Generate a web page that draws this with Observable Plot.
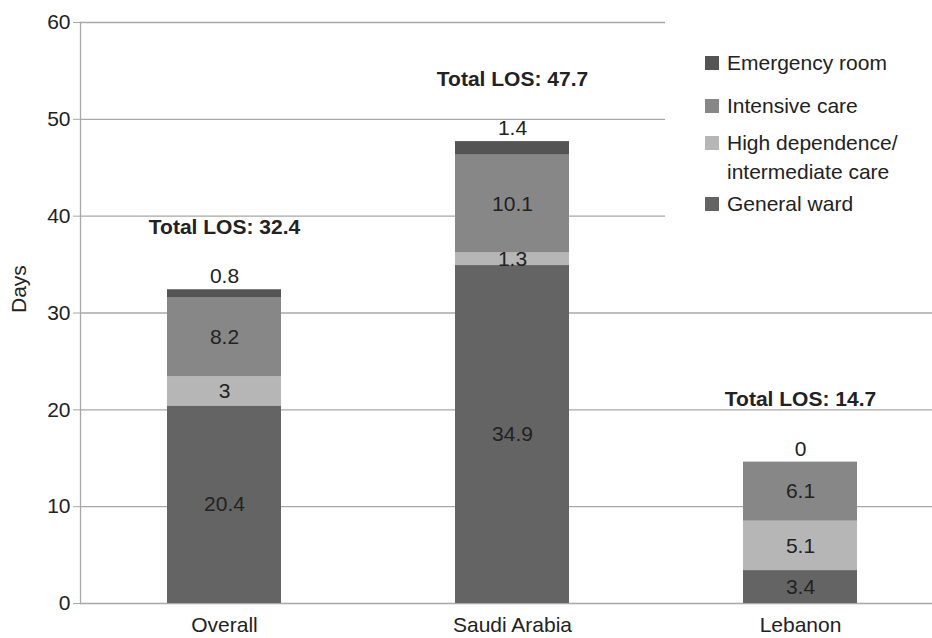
<!DOCTYPE html>
<html>
<head>
<meta charset="utf-8">
<script src="https://cdn.jsdelivr.net/npm/d3@7"></script>
<script src="https://cdn.jsdelivr.net/npm/@observablehq/plot@0.6"></script>
<style>
  html, body { margin: 0; padding: 0; background: #fff; }
  #wrap { position: relative; width: 932px; height: 638px; overflow: hidden; font-family: "Liberation Sans", Arial, sans-serif; }
  #legend { position: absolute; left: 665px; top: 0; width: 267px; height: 290px; background: #fff; padding: 48px 0 0 40px; box-sizing: border-box; color: #222; font-size: 21px; }
  .item { display: flex; align-items: flex-start; line-height: 29px; margin-bottom: 8px; }
  .item:nth-child(1) { margin-bottom: 14px; }
  .item:nth-child(3) { margin-bottom: 3px; }
  .sw { width: 14px; height: 14px; margin-top: 8px; margin-right: 8px; flex: none; }
</style>
</head>
<body>
<div id="wrap"><div id="chart"></div><div id="legend"></div></div>
<script>
const categories = ["Overall", "Saudi Arabia", "Lebanon"];
const seriesNames = ["General ward", "High dependence/intermediate care", "Intensive care", "Emergency room"];
const generalWard = [20.4, 34.9, 3.4];
const highDependence = [3, 1.3, 5.1];
const intensiveCare = [8.2, 10.1, 6.1];
const emergencyRoom = [0.8, 1.4, 0];
const totalLOS = [32.4, 47.7, 14.7];
const yTicks = [0, 10, 20, 30, 40, 50, 60];
const seriesColors = ["#646464", "#b6b6b6", "#878787", "#545454"];
const legendOrder = ["Emergency room", "Intensive care", "High dependence/intermediate care", "General ward"];
const legendLabels = {"Emergency room": "Emergency room", "Intensive care": "Intensive care", "High dependence/intermediate care": "High dependence/<br>intermediate care", "General ward": "General ward"};

const seriesValues = [generalWard, highDependence, intensiveCare, emergencyRoom];
const rows = [];
seriesNames.forEach((s, si) => categories.forEach((c, ci) => rows.push({category: c, series: s, value: seriesValues[si][ci]})));

const gridColor = "#a8a8a8";
const textColor = "#222";
const fs = 21;

const chart = Plot.plot({
  width: 932,
  height: 638,
  marginTop: 22,
  marginBottom: 35,
  marginLeft: 80,
  marginRight: 0,
  style: {fontFamily: "'Liberation Sans', Arial, sans-serif", fontSize: fs + "px", background: "#fff"},
  x: {domain: categories, range: [80, 944], paddingInner: 0.604, paddingOuter: 0.302, label: null},
  y: {domain: [0, 60], label: null},
  color: {domain: seriesNames, range: seriesColors},
  marks: [
    Plot.ruleY(yTicks, {stroke: gridColor, strokeWidth: 1.3}),
    Plot.barY(rows, {x: "category", y: "value", fill: "series", order: seriesNames}),
    Plot.text(rows, Plot.stackY({x: "category", y: "value", z: "series", order: seriesNames,
      text: d => d.series === "Emergency room" ? null : String(d.value), fontSize: fs, fill: textColor})),
    Plot.text(rows, Plot.stackY2({x: "category", y: "value", z: "series", order: seriesNames,
      text: d => d.series === "Emergency room" ? String(d.value) : null, dy: -13, fontSize: fs, fill: textColor})),
    Plot.text(categories, {x: d => d, y: (d, i) => totalLOS[i], text: (d, i) => `Total LOS: ${totalLOS[i]}`,
      dy: -62, fontSize: fs, fontWeight: "bold", fill: textColor}),
    Plot.frame({anchor: "left", stroke: gridColor, strokeWidth: 1.3}),
    Plot.axisY(yTicks, {tickSize: 7, tickPadding: 3, fontSize: fs, stroke: gridColor, fill: textColor}),
    Plot.axisX({tickSize: 0, tickPadding: 14, fontSize: fs, fill: textColor}),
    Plot.text(["Days"], {frameAnchor: "left", rotate: -90, dx: -61, fontSize: fs, fill: textColor})
  ]
});
document.getElementById("chart").appendChild(chart);

const legend = document.getElementById("legend");
legendOrder.forEach(s => {
  const item = document.createElement("div");
  item.className = "item";
  const sw = document.createElement("div");
  sw.className = "sw";
  sw.style.background = seriesColors[seriesNames.indexOf(s)];
  const lab = document.createElement("div");
  lab.innerHTML = legendLabels[s];
  item.appendChild(sw);
  item.appendChild(lab);
  legend.appendChild(item);
});
</script>
</body>
</html>
